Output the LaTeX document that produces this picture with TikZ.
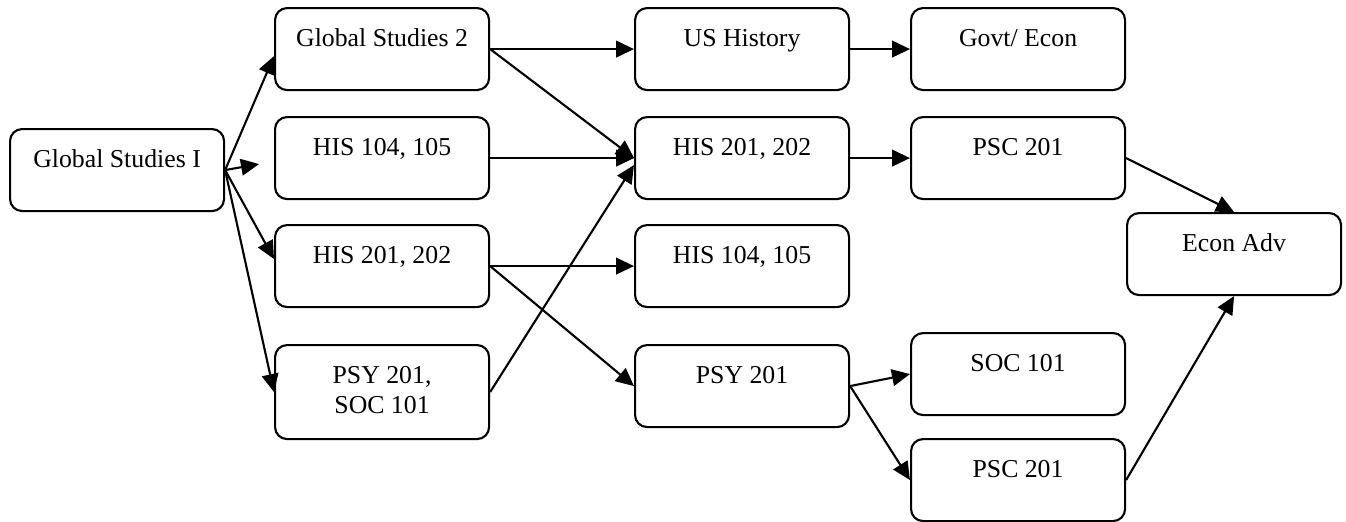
\documentclass[tikz,border=0pt]{standalone}
\usepackage{fontspec}
\setmainfont{Liberation Serif}
\usetikzlibrary{calc,arrows.meta}

\tikzset{
  course/.style={draw, rounded corners=0.18cm, line width=0.9pt, inner sep=0pt,
    anchor=north west, font=\fontsize{11}{12.8}\selectfont},
  arr/.style={-{Triangle[length=0.27cm,width=0.25cm]}, line width=0.9pt}
}
\newcommand{\crsbox}[2][1.23cm]{\parbox[c][#1][t]{3.21cm}{\centering\rule{0pt}{0.57cm}#2}}

\begin{document}
\begin{tikzpicture}[x=0.015cm,y=-0.015cm]
  \useasboundingbox (0,0) rectangle (1346,521);

  %% Course boxes (top left corner of each box)
  \foreach \nm/\x/\y/\txt in {gs1/9/128/Global Studies I, gs2/274/7/Global Studies 2,
      hisA/274/116/{HIS 104, 105}, hisB/274/224/{HIS 201, 202},
      ush/634/7/US History, hisC/634/116/{HIS 201, 202},
      hisD/634/224/{HIS 104, 105}, psy/634/344/PSY 201,
      gov/910/7/{Govt/ Econ}, pscA/910/116/PSC 201,
      soc/910/332/SOC 101, pscB/910/438/PSC 201, econ/1126/212/Econ Adv}
  {
    \node[course] (\nm) at (\x,\y) {\crsbox{\txt}};
  }
  \node[course] (psysoc) at (274,344) {\crsbox[1.41cm]{PSY 201,\\SOC 101}};

  %% Arrows out of Global Studies I
  \coordinate (gapA) at ($(hisA.west)+(-15,6)$);
  \draw[arr] (gs1.east) -- ($(gs2.west)+(0,7)$);
  \draw[arr] (gs1.east) -- (gapA);
  \draw[arr] (gs1.east) -- ($(hisB.west)+(0,-7)$);
  \draw[arr] (gs1.east) -- (psysoc.west);

  %% Arrows between the later courses
  \foreach \a/\b in {gs2/ush, gs2/hisC, hisA/hisC, hisB/hisD, hisB/psy,
      ush/gov, hisC/pscA, psy/soc, psy/pscB}
  {
    \draw[arr] (\a.east) -- (\b.west);
  }
  \draw[arr] (psysoc.east) -- ($(hisC.west)+(0,7)$);
  \draw[arr] (pscA.east) -- (econ.north);
  \draw[arr] (pscB.east) -- (econ.south);
\end{tikzpicture}
\end{document}
